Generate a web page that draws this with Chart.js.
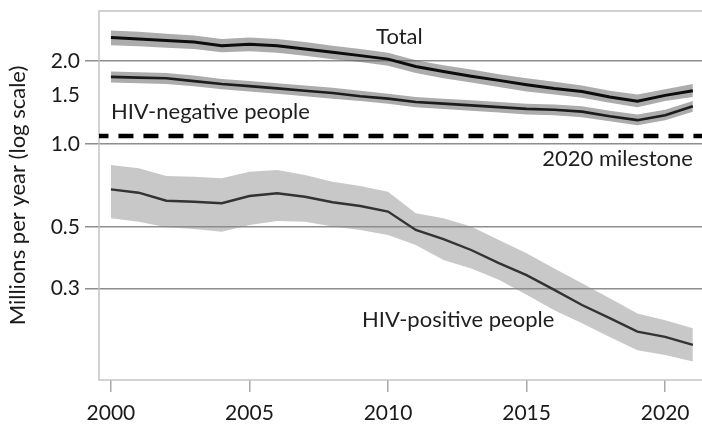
<!DOCTYPE html>
<html>
<head>
<meta charset="utf-8">
<script src="https://cdn.jsdelivr.net/npm/chart.js@4.4.1/dist/chart.umd.min.js"></script>
<style>
  html, body { margin: 0; padding: 0; background: #ffffff; }
  #wrap { width: 702px; height: 424px; }
</style>
</head>
<body>
<div id="wrap"><canvas id="c" width="702" height="424"></canvas></div>
<script>
// Estimated TB deaths, millions per year, with uncertainty intervals
const years = [2000, 2001, 2002, 2003, 2004, 2005, 2006, 2007, 2008, 2009, 2010,
               2011, 2012, 2013, 2014, 2015, 2016, 2017, 2018, 2019, 2020, 2021];

const totalMid  = [2.43, 2.40, 2.37, 2.34, 2.27, 2.30, 2.27, 2.21, 2.15, 2.09, 2.03,
                   1.91, 1.83, 1.76, 1.70, 1.64, 1.59, 1.55, 1.48, 1.43, 1.50, 1.56];
const totalLow  = [2.28, 2.26, 2.23, 2.21, 2.15, 2.17, 2.14, 2.09, 2.03, 1.98, 1.92,
                   1.81, 1.73, 1.67, 1.61, 1.55, 1.51, 1.47, 1.41, 1.36, 1.43, 1.48];
const totalHigh = [2.58, 2.55, 2.51, 2.47, 2.40, 2.43, 2.40, 2.34, 2.27, 2.21, 2.14,
                   2.01, 1.93, 1.86, 1.79, 1.73, 1.68, 1.63, 1.56, 1.51, 1.58, 1.65];

const negMid  = [1.75, 1.74, 1.73, 1.69, 1.65, 1.62, 1.59, 1.56, 1.53, 1.49, 1.46,
                 1.42, 1.40, 1.38, 1.36, 1.34, 1.33, 1.31, 1.26, 1.22, 1.27, 1.37];
const negLow  = [1.67, 1.66, 1.65, 1.62, 1.58, 1.55, 1.52, 1.49, 1.46, 1.43, 1.40,
                 1.36, 1.34, 1.32, 1.30, 1.28, 1.27, 1.25, 1.21, 1.17, 1.22, 1.31];
const negHigh = [1.83, 1.82, 1.81, 1.77, 1.72, 1.69, 1.66, 1.63, 1.60, 1.56, 1.52,
                 1.48, 1.46, 1.44, 1.42, 1.40, 1.39, 1.37, 1.32, 1.28, 1.33, 1.43];

const posMid  = [0.685, 0.666, 0.623, 0.618, 0.610, 0.648, 0.663, 0.644, 0.615, 0.596, 0.569,
                 0.488, 0.452, 0.413, 0.370, 0.335, 0.296, 0.261, 0.234, 0.209, 0.200, 0.187];
const posLow  = [0.538, 0.523, 0.499, 0.492, 0.481, 0.509, 0.526, 0.523, 0.502, 0.488, 0.468,
                 0.431, 0.380, 0.354, 0.322, 0.284, 0.250, 0.224, 0.200, 0.179, 0.172, 0.163];
const posHigh = [0.839, 0.817, 0.766, 0.761, 0.751, 0.794, 0.805, 0.772, 0.730, 0.704, 0.672,
                 0.561, 0.538, 0.502, 0.449, 0.402, 0.354, 0.313, 0.276, 0.243, 0.230, 0.215];

const milestone2020 = 1.07;

const yearTicks = [2000, 2005, 2010, 2015, 2020];
const valueTicks = [0.3, 0.5, 1.0, 1.5, 2.0];
const ticksWithoutGrid = [1.5];

// Series labels placed on the plot: [text, year, value, alignment]
const seriesNotes = [
  ['Total', 2009.57, 2.30, 'left'],
  ['HIV-negative people', 2000.0, 1.227, 'left'],
  ['2020 milestone', 2021.0, 0.829, 'right'],
  ['HIV-positive people', 2009.06, 0.218, 'left']
];

const FONT = 'Lato';
const X_MIN = 1999.57, X_MAX = 2021.33;
const Y_MIN = 0.1396, Y_MAX = 3.033;

const pts = arr => years.map((yr, i) => ({ x: yr, y: arr[i] }));

const bandDark = 'rgba(95,95,95,0.52)';
const bandLight = 'rgba(140,140,140,0.48)';

const datasets = [
  { label: 'Total', data: pts(totalMid), borderColor: '#0d0d0d', borderWidth: 3, fill: false, order: 0 },
  { label: 'HIV-negative', data: pts(negMid), borderColor: '#1c1c1c', borderWidth: 2.6, fill: false, order: 0 },
  { label: 'HIV-positive', data: pts(posMid), borderColor: '#333333', borderWidth: 2.4, fill: false, order: 0 },
  { label: 'milestone', data: [{ x: X_MIN - 0.2, y: milestone2020 }, { x: X_MAX + 0.2, y: milestone2020 }],
    borderColor: '#000000', borderWidth: 4.5, borderDash: [15, 10], fill: false, order: 1 },
  { label: 'total-hi', data: pts(totalHigh), borderWidth: 0, borderColor: 'rgba(0,0,0,0)', fill: false, order: 2 },
  { label: 'total-lo', data: pts(totalLow), borderWidth: 0, borderColor: 'rgba(0,0,0,0)', backgroundColor: bandDark, fill: 4, order: 2 },
  { label: 'neg-hi', data: pts(negHigh), borderWidth: 0, borderColor: 'rgba(0,0,0,0)', fill: false, order: 2 },
  { label: 'neg-lo', data: pts(negLow), borderWidth: 0, borderColor: 'rgba(0,0,0,0)', backgroundColor: bandDark, fill: 6, order: 2 },
  { label: 'pos-hi', data: pts(posHigh), borderWidth: 0, borderColor: 'rgba(0,0,0,0)', fill: false, order: 2 },
  { label: 'pos-lo', data: pts(posLow), borderWidth: 0, borderColor: 'rgba(0,0,0,0)', backgroundColor: bandLight, fill: 8, order: 2 }
];

// Light frame around the plotting region
const framePlugin = {
  id: 'frame',
  beforeDatasetsDraw(chart) {
    const { ctx, chartArea: a } = chart;
    ctx.save();
    ctx.strokeStyle = '#c4c4c4';
    ctx.lineWidth = 1.5;
    ctx.strokeRect(a.left, a.top, a.right - a.left + 4, a.bottom - a.top);
    ctx.restore();
  }
};

// Text labels next to each curve
const notesPlugin = {
  id: 'notes',
  afterDatasetsDraw(chart) {
    const { ctx, scales } = chart;
    ctx.save();
    ctx.font = '22px ' + FONT;
    ctx.fillStyle = '#1f1f1f';
    ctx.textBaseline = 'alphabetic';
    seriesNotes.forEach(([text, yr, val, align]) => {
      ctx.textAlign = align;
      ctx.fillText(text, scales.x.getPixelForValue(yr), scales.y.getPixelForValue(val));
    });
    ctx.restore();
  }
};

new Chart(document.getElementById('c'), {
  type: 'line',
  data: { datasets },
  options: {
    responsive: false,
    animation: false,
    events: [],
    layout: { padding: { top: 11, right: 0, bottom: 0, left: 0 } },
    elements: { point: { radius: 0 }, line: { tension: 0 } },
    plugins: {
      legend: { display: false },
      tooltip: { enabled: false },
      filler: { drawTime: 'beforeDatasetsDraw' }
    },
    scales: {
      x: {
        type: 'linear',
        min: X_MIN,
        max: X_MAX,
        afterBuildTicks: s => { s.ticks = yearTicks.map(v => ({ value: v })); },
        afterFit: s => { s.height = 44; s.paddingLeft = 0; s.paddingRight = 0; },
        border: { display: false },
        grid: { drawOnChartArea: false, drawTicks: true, tickLength: 12, color: '#a8a8a8', lineWidth: 1.5 },
        ticks: {
          padding: 9,
          maxRotation: 0,
          autoSkip: false,
          color: '#1a1a1a',
          font: { family: FONT, size: 21 },
          callback: v => String(v)
        }
      },
      y: {
        type: 'logarithmic',
        min: Y_MIN,
        max: Y_MAX,
        afterBuildTicks: s => { s.ticks = valueTicks.map(v => ({ value: v })); },
        afterFit: s => { s.width = 99; s.paddingTop = 0; s.paddingBottom = 0; },
        border: { display: false },
        grid: {
          color: c => (c.tick && ticksWithoutGrid.includes(c.tick.value)) ? 'rgba(0,0,0,0)' : '#8e8e8e',
          lineWidth: 1.5,
          tickLength: 14
        },
        ticks: {
          padding: 5,
          autoSkip: false,
          color: '#1a1a1a',
          font: { family: FONT, size: 21 },
          callback: v => Number(v).toFixed(1)
        },
        title: {
          display: true,
          text: 'Millions per year (log scale)',
          color: '#1a1a1a',
          font: { family: FONT, size: 22 },
          padding: { top: 5, bottom: 0 }
        }
      }
    }
  },
  plugins: [framePlugin, notesPlugin]
});
</script>
</body>
</html>
